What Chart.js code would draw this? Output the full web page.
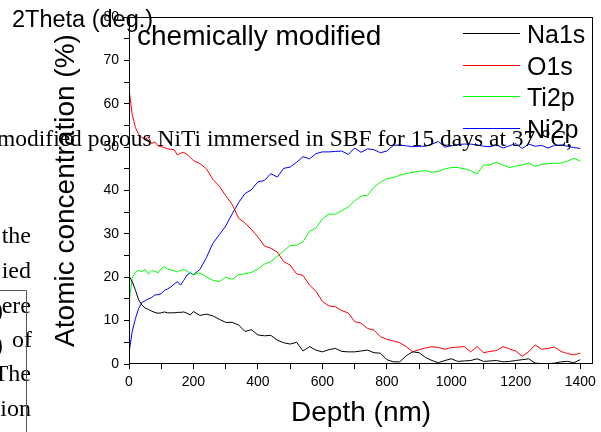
<!DOCTYPE html>
<html>
<head>
<meta charset="utf-8">
<script src="https://cdn.jsdelivr.net/npm/chart.js@4.4.1/dist/chart.umd.min.js"></script>
<style>
    html, body { margin: 0; padding: 0; background: #fff; }
    #wrap { position: relative; width: 601px; height: 432px; overflow: hidden; }
    #myChart { position: absolute; left: 0; top: 0; }
    #paper { position: absolute; left: 0; top: 0; pointer-events: none; }
</style>
</head>
<body>
<div id="wrap">
    <canvas id="myChart" width="601" height="432"></canvas>
    <!-- bits of the scanned page that sit on top of the figure -->
    <svg id="paper" width="601" height="432" xmlns="http://www.w3.org/2000/svg">
        <text x="12" y="27" font-family="Arial, 'Liberation Sans'" font-size="23.5" fill="#000">2Theta (deg.)</text>
        <text x="-3" y="146" font-family="'Times New Roman', 'Liberation Serif'" font-size="23.5" fill="#000">modified porous NiTi immersed in SBF for 15 days at 37 °C,</text>
        <g font-family="'Times New Roman', 'Liberation Serif'" font-size="24" fill="#000" text-anchor="end">
            <text x="31" y="243">the</text>
            <text x="31" y="278">ied</text>
            <text x="31" y="313">ere</text>
            <text x="32" y="347">of</text>
            <text x="31" y="381">The</text>
            <text x="31" y="416">ion</text>
        </g>
        <g font-family="'Times New Roman', 'Liberation Serif'" font-size="30" font-weight="bold" fill="#000">
            <text x="-12" y="322">9</text>
            <text x="-12" y="356">0</text>
        </g>
        <polyline points="0,290.5 26.5,290.5 26.5,432" fill="none" stroke="#555" stroke-width="1"/>
    </svg>
</div>
<script>
// depth (nm)
const depth = [
    0, 10, 20, 30, 40, 50, 60, 70, 80, 90, 100, 110, 120, 130, 140, 150, 160, 170, 180, 190, 200,
    220, 240, 260, 280, 300, 320, 340, 360, 380, 400,
    420, 440, 460, 480, 500, 520, 540, 560, 580, 600,
    620, 640, 660, 680, 700, 720, 740, 760, 780, 800,
    820, 840, 860, 880, 900, 920, 940, 960, 980, 1000,
    1020, 1040, 1060, 1080, 1100, 1120, 1140, 1160, 1180, 1200,
    1220, 1240, 1260, 1280, 1300, 1320, 1340, 1360, 1380, 1400
];

// atomic concentration (%)
const na1s = [
    20.3, 19.0, 17.0, 14.8, 13.6, 12.9, 12.6, 12.2, 11.9, 11.7, 11.8, 12.0, 11.8, 11.8, 11.8, 11.9, 11.9, 12.0, 11.7, 11.3, 12.1,
    11.2, 11.5, 11.1, 10.3, 9.6, 9.6, 9.0, 7.5, 7.9, 6.7,
    6.5, 6.6, 5.5, 4.9, 4.6, 5.0, 3.0, 4.0, 3.2, 2.8,
    3.3, 3.6, 2.9, 2.8, 2.8, 3.0, 3.2, 2.6, 2.5, 1.0,
    0.5, 0.5, 1.9, 2.8, 2.6, 1.5, 0.8, 0.3, 0.8, 1.2,
    0.6, 0.7, 0.8, 1.2, 0.6, 0.7, 0.8, 0.5, 0.6, 0.8,
    1.0, 1.2, 0.2, 0.1, 0.1, 0.2, 0.5, 0.6, 0.3, 1.0
];
const o1s = [
    63.5, 57.5, 54.5, 52.9, 52.2, 51.8, 52.3, 50.8, 51.2, 50.3, 50.1, 49.9, 49.6, 49.5, 49.4, 48.2, 48.6, 48.8, 48.3, 47.6, 46.9,
    46.2, 45.0, 42.6, 41.0, 38.8, 36.8, 33.6, 32.5, 31.0, 29.3,
    27.2, 26.7, 25.8, 23.6, 22.8, 20.8, 20.4, 18.2, 16.8, 14.4,
    13.4, 13.2, 12.3, 11.8, 9.8, 9.4, 8.2, 7.8, 6.3, 5.7,
    5.3, 4.9, 4.0, 2.8, 3.3, 3.7, 4.0, 3.8, 3.4, 3.8,
    3.9, 4.0, 2.8, 4.0, 2.6, 2.9, 3.1, 4.0, 3.5, 3.0,
    1.8, 2.8, 4.4, 3.4, 3.6, 3.9, 2.9, 2.4, 2.1, 2.5
];
const ti2p = [
    14.2, 19.8, 21.2, 21.6, 21.3, 21.8, 20.7, 21.5, 21.4, 21.0, 22.0, 22.4, 21.9, 21.7, 21.5, 21.2, 21.6, 21.8, 21.4, 20.9, 20.6,
    21.0, 20.1, 19.3, 19.0, 20.0, 19.5, 20.6, 20.8, 21.1, 21.9,
    23.0, 23.6, 24.8, 26.1, 27.3, 27.4, 28.2, 30.6, 31.3, 33.5,
    34.6, 34.5, 35.3, 36.2, 37.6, 38.7, 38.9, 40.8, 41.9, 42.7,
    43.0, 43.5, 43.9, 44.2, 44.4, 44.6, 44.2, 44.4, 45.0, 45.3,
    45.3, 45.0, 44.6, 43.8, 45.9, 45.9, 46.5, 45.9, 45.3, 45.6,
    45.9, 46.3, 45.6, 46.0, 46.2, 46.3, 46.3, 46.8, 47.4, 46.8
];
const ni2p = [
    2.5, 7.5, 10.5, 12.8, 14.2, 14.6, 15.0, 15.3, 15.9, 16.0, 16.2, 17.0, 17.3, 17.8, 18.4, 19.0, 18.2, 19.3, 20.5, 21.0, 20.6,
    21.8, 24.5, 27.8, 29.8, 31.8, 34.6, 37.2, 39.3, 40.2, 42.0,
    42.3, 43.9, 43.1, 45.1, 45.4, 46.5, 47.8, 47.3, 48.5, 48.9,
    48.9, 49.0, 49.1, 48.3, 49.8, 48.8, 49.6, 49.4, 48.7, 49.1,
    50.4, 50.5, 50.3, 50.1, 50.2, 50.2, 50.7, 51.3, 50.0, 50.3,
    50.6, 50.7, 50.7, 50.5, 50.2, 50.1, 50.5, 49.8, 50.3, 50.8,
    49.7, 50.7, 50.2, 50.4, 49.8, 50.4, 50.5, 50.2, 49.9, 49.7
];

const seriesNames = ['Na1s', 'O1s', 'Ti2p', 'Ni2p'];
const seriesColors = ['#000000', '#ff0000', '#00ff00', '#0000ff'];
const chartTitle = 'chemically modified';

const sans = "Arial, 'Liberation Sans', sans-serif";

function toPoints(values) {
    return depth.map((d, i) => ({ x: d, y: values[i] }));
}

const datasets = [na1s, o1s, ti2p, ni2p].map((vals, i) => ({
    label: seriesNames[i],
    data: toPoints(vals),
    borderColor: seriesColors[i],
    backgroundColor: seriesColors[i],
    borderWidth: 1,
    pointRadius: 0,
    tension: 0,
    fill: false
}));

// frame, title and legend drawn inside the plot box
const framePlugin = {
    id: 'frame',
    afterDraw(chart) {
        const ctx = chart.ctx;
        const a = chart.chartArea;
        ctx.save();
        ctx.strokeStyle = '#000';
        ctx.lineWidth = 1;
        const l = Math.round(a.left) + 0.5, t = Math.round(a.top) + 0.5;
        const r = Math.round(a.right) - 0.5, b = Math.round(a.bottom) - 0.5;
        ctx.strokeRect(l, t, r - l, b - t);

        ctx.fillStyle = '#000';
        ctx.font = '28px ' + sans;
        ctx.textBaseline = 'alphabetic';
        ctx.textAlign = 'left';
        ctx.fillText(chartTitle, a.left + 8, 45);

        ctx.font = '25px ' + sans;
        chart.data.datasets.forEach((ds, i) => {
            const y = Math.round(33 + i * 31.7) + 0.5;
            ctx.strokeStyle = ds.borderColor;
            ctx.beginPath();
            ctx.moveTo(463, y);
            ctx.lineTo(520, y);
            ctx.stroke();
            ctx.fillText(ds.label, 527, y + 9.5);
        });
        ctx.restore();
    }
};

const config = {
    type: 'line',
    data: { datasets: datasets },
    options: {
        responsive: false,
        animation: false,
        layout: { padding: { left: 0, top: 17, right: 6, bottom: 0 } },
        plugins: {
            legend: { display: false },
            tooltip: { enabled: false }
        },
        scales: {
            x: {
                type: 'linear',
                min: 0,
                max: 1440,
                afterFit(scale) { scale.height = 68; },
                border: { display: false },
                grid: {
                    drawOnChartArea: false,
                    drawTicks: true,
                    tickLength: 5,
                    color: '#000'
                },
                ticks: {
                    stepSize: 100,
                    includeBounds: false,
                    autoSkip: false,
                    maxRotation: 0,
                    padding: 5,
                    color: '#000',
                    font: { family: sans, size: 14 },
                    callback: (v) => (v % 200 === 0) ? v : ''
                },
                title: {
                    display: true,
                    text: 'Depth (nm)',
                    color: '#000',
                    font: { family: sans, size: 28 },
                    padding: { top: 0, bottom: 2 }
                }
            },
            y: {
                min: 0,
                max: 80,
                afterFit(scale) { scale.width = 129; },
                border: { display: false },
                grid: {
                    drawOnChartArea: false,
                    drawTicks: true,
                    tickLength: 5,
                    color: '#000'
                },
                ticks: {
                    stepSize: 5,
                    padding: 5,
                    color: '#000',
                    font: { family: sans, size: 14 },
                    callback: (v) => (v % 10 === 0) ? v : ''
                },
                title: {
                    display: true,
                    text: 'Atomic concentration (%)',
                    color: '#000',
                    font: { family: sans, size: 28 },
                    padding: { top: 49, bottom: 0 }
                }
            }
        }
    },
    plugins: [framePlugin]
};

var myChart = new Chart(document.getElementById('myChart'), config);
</script>
</body>
</html>
